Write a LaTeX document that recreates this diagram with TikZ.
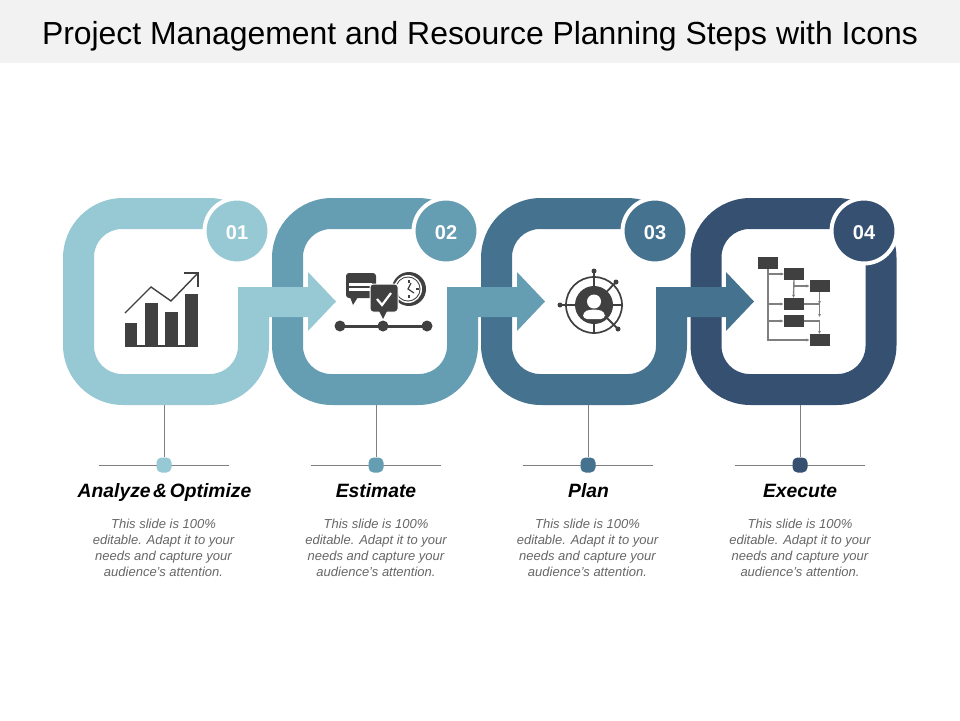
\documentclass[tikz,border=0pt]{standalone}
\usepackage{fontspec}
\setmainfont{Liberation Sans}
\usetikzlibrary{positioning, arrows.meta}
\definecolor{colA}{HTML}{97C9D4}
\definecolor{colB}{HTML}{659DB2}
\definecolor{colC}{HTML}{44728F}
\definecolor{colD}{HTML}{355070}
\definecolor{iconcol}{HTML}{404040}
\definecolor{bandcol}{HTML}{F2F2F2}
\definecolor{stemcol}{HTML}{7F7F7F}
\definecolor{bodycol}{HTML}{666666}
\newcommand{\ringarrow}[2]{
	\fill[#2, shift={(#1,0)}] (225,229) -- (122,229) arc[start angle=90, end angle=180, radius=28pt] -- (94,346) arc[start angle=180, end angle=270, radius=28pt] -- (210,374) arc[start angle=270, end angle=360, radius=28pt] -- (238,287) -- (308,287) -- (308,272) -- (336,301.5) -- (308,331) -- (308,317) -- (269,317) -- (269,345) arc[start angle=0, end angle=-90, radius=60pt] -- (123,405) arc[start angle=-90, end angle=-180, radius=60pt] -- (63,258) arc[start angle=180, end angle=90, radius=60pt] -- (209,198) arc[start angle=90, end angle=20, radius=60pt] -- cycle;
}
\newcommand{\bodytext}{This slide is 100\%\\editable. Adapt it to your\\needs and capture your\\audience's attention.}

\begin{document}
\begin{tikzpicture}[x=1pt, y=-1pt,
	numcircle/.style = {circle, draw=white, line width=4pt, minimum size=65pt, inner sep=0pt, text=white, text height=17.5pt, text depth=0pt, font=\fontsize{20}{20}\selectfont\bfseries},
	dotnode/.style = {rounded corners=5pt, minimum size=15pt, inner sep=0pt},
	stemline/.style = {stemcol, line width=1pt},
	headtext/.style = {font=\fontsize{19.3}{22}\selectfont\bfseries\itshape, inner sep=0pt, anchor=base},
	infotext/.style = {font=\fontsize{13}{16}\selectfont\itshape, text=bodycol, align=center, inner sep=0pt},
	orgbox/.style = {fill=iconcol, minimum width=20pt, minimum height=12pt, inner sep=0pt},
	orgline/.style = {stemcol, line width=1.4pt, -{Stealth[length=3pt, width=3pt]}}]
	\useasboundingbox (0,0) rectangle (960,720);
	\fill[bandcol] (0,0) rectangle (960,63);
	\node (title) at (480,36) {\fontsize{31.9}{36}\selectfont Project Management and Resource Planning Steps with Icons};

	% rings, last one first
	\fill[colD, even odd rule, shift={(627.5,0)}] [rounded corners=60pt] (63,198) rectangle (269,405) [rounded corners=28pt] (94,229) rectangle (238,374);
	\ringarrow{418}{colC}
	\ringarrow{209}{colB}
	\ringarrow{0}{colA}
	\node[numcircle, fill=colA] (num1) at (237,231) {01};
	\node[numcircle, fill=colB] (num2) at (446,231) {02};
	\node[numcircle, fill=colC] (num3) at (655,231) {03};
	\node[numcircle, fill=colD] (num4) at (864,231) {04};

	% stems and labels
	\coordinate (stem1) at (164,405);
	\coordinate (stem2) at (376,405);
	\coordinate (stem3) at (588,405);
	\coordinate (stem4) at (800,405);
	\coordinate (left1) at (99,465);
	\coordinate (right1) at (229,465);
	\coordinate (left2) at (311,465);
	\coordinate (right2) at (441,465);
	\coordinate (left3) at (523,465);
	\coordinate (right3) at (653,465);
	\coordinate (left4) at (735,465);
	\coordinate (right4) at (865,465);
	\draw[stemline] (left1) -- (right1);
	\draw[stemline] (left2) -- (right2);
	\draw[stemline] (left3) -- (right3);
	\draw[stemline] (left4) -- (right4);
	\node[dotnode, fill=colA] (dot1) at (164,465) {};
	\node[dotnode, fill=colB] (dot2) at (376,465) {};
	\node[dotnode, fill=colC] (dot3) at (588,465) {};
	\node[dotnode, fill=colD] (dot4) at (800,465) {};
	\draw[stemline] (stem1) -- (dot1);
	\draw[stemline] (stem2) -- (dot2);
	\draw[stemline] (stem3) -- (dot3);
	\draw[stemline] (stem4) -- (dot4);
	\node[headtext] (head1) at (164.5,497) {\spaceskip=2.6pt Analyze \& Optimize};
	\node[headtext] (head2) at (376,497) {Estimate};
	\node[headtext] (head3) at (588.5,497) {Plan};
	\node[headtext] (head4) at (800,497) {Execute};
	\node[infotext, below=22pt of head1.base, xshift=-1pt] (info1) {\bodytext};
	\node[infotext, below=22pt of head2.base] (info2) {\bodytext};
	\node[infotext, below=22pt of head3.base, xshift=-1pt] (info3) {\bodytext};
	\node[infotext, below=22pt of head4.base] (info4) {\bodytext};

	% chart icon
	\fill[iconcol] (125,323) rectangle (137,347);
	\fill[iconcol] (145,303) rectangle (157.5,347);
	\fill[iconcol] (165,312) rectangle (178,347);
	\fill[iconcol] (185,294) rectangle (198,347);
	\fill[iconcol] (125,345) rectangle (198,347);
	\draw[iconcol, line width=1.4pt] (125,313) -- (151,287) -- (171,301) -- (198,273);
	\draw[iconcol, line width=1.4pt] (184,273) -- (198,273) -- (198,287);

	% chat and clock icon
	\fill[iconcol] (409,289) circle[radius=17pt];
	\fill[white] (408,289) circle[radius=14pt];
	\fill[iconcol] (408,289) circle[radius=12.5pt];
	\fill[white] (408,289) circle[radius=11.5pt];
	\draw[iconcol, line width=1.2pt] (409,280) -- (409,283);
	\draw[iconcol, line width=1.2pt] (409,295) -- (409,298);
	\draw[iconcol, line width=1.2pt] (416,289) -- (419,289);
	\draw[iconcol, line width=1.2pt] (411,283) -- (408,289) -- (414,293);
	\fill[iconcol, rounded corners=3pt] (346,273) rectangle (376,298);
	\fill[iconcol] (350,297) -- (358,297) -- (353,305) -- cycle;
	\fill[white] (349,283) rectangle (372,286);
	\fill[white] (349,288) rectangle (372,291);
	\fill[iconcol, rounded corners=3pt, draw=white, line width=1pt] (370,284) rectangle (398,312);
	\fill[iconcol] (379,311) -- (387,311) -- (383,319) -- cycle;
	\draw[white, line width=2.2pt] (377,299) -- (382,305) -- (391,293);
	\coordinate (tick1) at (340,326);
	\coordinate (tick2) at (383,326);
	\coordinate (tick3) at (427,326);
	\draw[iconcol, line width=3pt] (tick1) -- (tick2) -- (tick3);
	\fill[iconcol] (tick1) circle[radius=5.5pt];
	\fill[iconcol] (tick2) circle[radius=5.5pt];
	\fill[iconcol] (tick3) circle[radius=5.5pt];

	% target icon
	\draw[iconcol, line width=1.5pt] (594,271) -- (594,333);
	\draw[iconcol, line width=1.5pt] (560,305) -- (623,305);
	\draw[iconcol, line width=1.8pt] (594,305) -- (616,282);
	\draw[iconcol, line width=1.8pt] (594,305) -- (618,329);
	\draw[iconcol, line width=1.7pt] (594,305) circle[radius=28pt];
	\fill[iconcol] (594,305) circle[radius=19pt];
	\fill[iconcol] (594,271) circle[radius=2.5pt];
	\fill[iconcol] (560,305) circle[radius=2.5pt];
	\fill[iconcol] (616,282) circle[radius=2.5pt];
	\fill[iconcol] (618,329) circle[radius=2.5pt];
	\fill[white] (594,301.5) circle[radius=7pt];
	\fill[white, rounded corners=4pt] (583,319) -- (583,312) -- (590,309.5) -- (598,309.5) -- (605,312) -- (605,319) -- cycle;

	% tree icon
	\node[orgbox] (boxa) at (768,263) {};
	\node[orgbox] (boxb) at (794,274) {};
	\node[orgbox] (boxc) at (819.5,286) {};
	\node[orgbox] (boxd) at (793.5,304) {};
	\node[orgbox] (boxe) at (793.5,321) {};
	\node[orgbox] (boxf) at (819.5,340) {};
	\draw[orgline] (boxa.south) |- (boxb.west);
	\draw[orgline] (boxa.south) |- (boxd.west);
	\draw[orgline] (boxa.south) |- (boxe.west);
	\draw[orgline] (boxa.south) |- (boxf.west);
	\draw[orgline] (boxb.south) -- (boxd.north);
	\draw[orgline] (boxb.south |- boxc.west) -- (boxc.west);
	\draw[orgline] (boxd.east) -| ([yshift=-2pt]boxe.north -| boxc.south);
	\draw[orgline] (boxc.south) -- (boxd.east -| boxc.south);
	\draw[orgline] (boxe.east) -| (boxf.north);
\end{tikzpicture}
\end{document}
